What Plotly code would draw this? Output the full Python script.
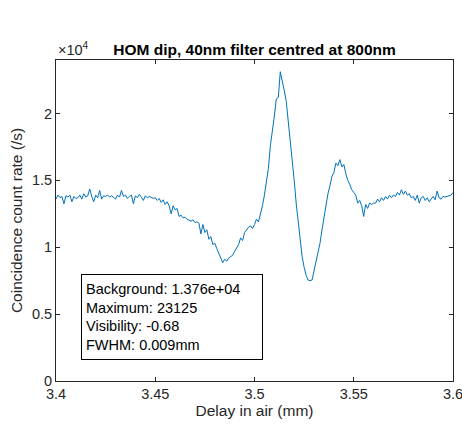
import plotly.graph_objects as go

# Sampling grid of the delay scan (mm)
delay_start = 3.400
delay_step = 0.001

# Coincidence counts (/s), one per delay step
counts = [
    # 3.400 - 3.450
    13600, 13900, 13700, 13800, 13250, 13850, 13750, 13900, 13400, 13800,
    13650, 13700, 13900, 13600, 14000, 13750, 13850, 14350, 13800, 13400,
    13900, 13700, 14250, 13600, 13850, 13800, 13900, 13750, 13850, 13700,
    13600, 13900, 13750, 14250, 13800, 13900, 13650, 13800, 13900, 13250,
    13850, 13700, 13950, 13750, 13500, 13850, 13700, 13800, 13750, 13650,
    13700,
    # 3.451 - 3.472
    13500, 13650, 13350, 13550, 13200, 13400, 13100, 12500, 13100, 12800,
    12900, 12300, 12400, 12200, 12250, 12100, 12000, 11950, 12050, 11850,
    11900, 11800,
    # 3.473 - 3.500
    11000, 11700, 11100, 11300, 10600, 10800, 10200, 10300, 9900, 9600,
    9200, 8850, 9100, 8950, 9200, 9300, 9400, 9700, 10000, 10200,
    10700, 10500, 11100, 11300, 11500, 11600, 11400, 11700,
    # 3.501 - 3.560
    12100, 11900, 12400, 13100, 13900, 14800, 15900, 17600, 18600, 19800,
    21100, 21200, 23125, 22500, 21700, 20900, 19500, 18300, 16500, 15000,
    13300, 11800, 10400, 9300, 8500, 7900, 7550, 7500, 7550, 8200,
    8800, 9500, 10300, 11300, 12200, 13300, 14000, 14600, 15300, 15600,
    16300, 16100, 16550, 16000, 16200, 15500, 15000, 14700, 14300, 14100,
    13900, 13300, 13500, 13100, 12300, 13200, 12900, 13300, 13200, 13300,
    # 3.561 - 3.600
    13300, 13600, 13400, 13700, 13500, 13800, 13600, 13900, 13700, 13900,
    13800, 14100, 13900, 14300, 13950, 14200, 13900, 14000, 13700, 13800,
    13500, 13900, 13300, 13700, 13800, 13500, 13700, 13400, 13600, 13800,
    13550, 14200, 13700, 13600, 13800, 13750, 13800, 13850, 13900, 14100,
]

delay = [round(delay_start + i * delay_step, 4) for i in range(len(counts))]

x_ticks = [3.4, 3.45, 3.5, 3.55, 3.6]
x_tick_labels = ["3.4", "3.45", "3.5", "3.55", "3.6"]
y_ticks = [0, 5000, 10000, 15000, 20000]
y_tick_labels = ["0", "0.5", "1", "1.5", "2"]

stats_lines = [
    "Background: 1.376e+04",
    "Maximum: 23125",
    "Visibility: -0.68",
    "FWHM: 0.009mm",
]

axis_col = "#262626"
font_family = "Liberation Sans, Arial, Helvetica, sans-serif"

fig = go.Figure()
fig.add_trace(go.Scatter(
    x=delay, y=counts, mode="lines",
    line=dict(color="#0072BD", width=1),
    hoverinfo="skip", showlegend=False,
))

common_axis = dict(
    showline=True, linecolor=axis_col, linewidth=1, mirror="ticks",
    ticks="inside", ticklen=4, tickcolor=axis_col, tickwidth=1,
    showgrid=False, zeroline=False, ticklabeloverflow="allow",
    automargin=False,
    tickfont=dict(family=font_family, size=14.5, color=axis_col),
)

fig.update_layout(
    width=462, height=430,
    margin=dict(l=56, r=9, t=60, b=49),
    paper_bgcolor="white", plot_bgcolor="white",
    font=dict(family=font_family, color=axis_col),
    title=dict(
        text="<b>HOM dip, 40nm filter centred at 800nm</b>",
        font=dict(family=font_family, size=15.5, color="black"),
        x=0.5, xref="paper", xanchor="center",
        y=1, yref="paper", yanchor="bottom", pad=dict(b=5),
    ),
    xaxis=dict(
        common_axis, range=[3.4, 3.6], tickvals=x_ticks, ticktext=x_tick_labels,
        title=dict(text="Delay in air (mm)", standoff=3,
                   font=dict(family=font_family, size=15.5, color=axis_col)),
    ),
    yaxis=dict(
        common_axis, range=[0, 24000], tickvals=y_ticks, ticktext=y_tick_labels,
        title=dict(text="Coincidence count rate (/s)", standoff=5,
                   font=dict(family=font_family, size=15.5, color=axis_col)),
    ),
)

fig.add_annotation(
    text="\u00d710<sup>4</sup>", xref="paper", yref="paper",
    x=0, y=1, xanchor="left", yanchor="bottom", showarrow=False,
    font=dict(family=font_family, size=14.5, color=axis_col), yshift=0,
)

fig.add_annotation(
    text="<br>".join(stats_lines), xref="paper", yref="paper",
    x=(81 - 56) / 397, y=(381 - 274) / 321, xanchor="left", yanchor="top",
    showarrow=False, align="left", width=172, height=76,
    bordercolor="black", borderwidth=1, borderpad=4, bgcolor="white",
    font=dict(family=font_family, size=14.5, color="black"),
)

fig.write_html("out.html")
